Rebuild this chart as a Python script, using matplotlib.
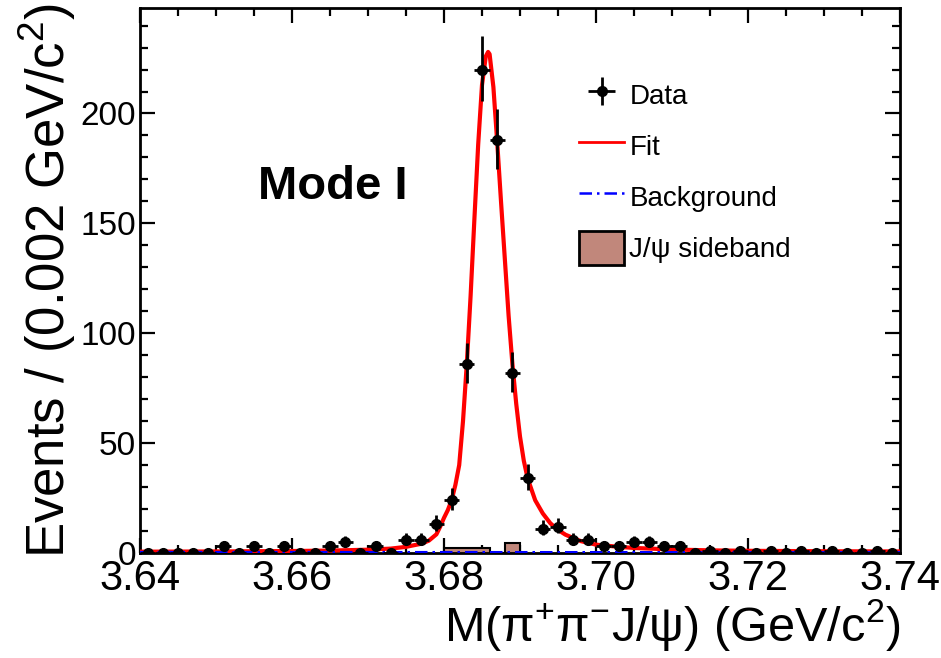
import numpy as np
import matplotlib
matplotlib.use("Agg")
import matplotlib.pyplot as plt
import matplotlib.patches as mpatches
from matplotlib.lines import Line2D
from matplotlib.ticker import MultipleLocator

plt.rcParams['font.family'] = ['Liberation Sans', 'DejaVu Sans']
plt.rcParams['mathtext.fontset'] = 'custom'
plt.rcParams['mathtext.rm'] = 'Liberation Sans'
plt.rcParams['mathtext.it'] = 'Liberation Sans:italic'
plt.rcParams['mathtext.bf'] = 'Liberation Sans:bold'
plt.rcParams['mathtext.default'] = 'rm'

# binning: 50 bins of 0.002 GeV/c^2 between 3.64 and 3.74
mass_lo, mass_hi, bin_width = 3.64, 3.74, 0.002

# data counts per bin
counts = np.array([0, 0, 0, 0, 0, 3, 0, 3, 0, 3,
                   0, 0, 3, 5, 0, 3, 0, 6, 6, 13,
                   24, 86, 220, 188, 82, 34, 11, 12, 6, 6,
                   3, 3, 5, 5, 3, 3, 0, 1, 0, 1,
                   0, 1, 0, 1, 0, 1, 0, 0, 1, 0])

# fit curve
fit_x = [3.640, 3.650, 3.655, 3.660, 3.665, 3.670, 3.673, 3.675, 3.677, 3.678,
         3.679, 3.6795, 3.680, 3.6805, 3.681, 3.6815, 3.682, 3.6825, 3.683, 3.6835,
         3.684, 3.6845, 3.685, 3.6855, 3.6858, 3.686, 3.6865, 3.687, 3.6875, 3.688,
         3.6885, 3.689, 3.6895, 3.690, 3.6905, 3.691, 3.692, 3.693, 3.694, 3.695,
         3.696, 3.698, 3.700, 3.703, 3.705, 3.710, 3.715, 3.720, 3.730, 3.740]
fit_y = [0.6, 0.7, 0.8, 0.9, 1.1, 1.5, 2.0, 2.8, 4.2, 5.6,
         8.5, 12, 16, 19.5, 24, 31, 40, 60, 86, 117,
         152, 186, 213, 226, 228, 227, 212, 187, 160, 134,
         108, 86, 68, 53, 42, 34, 24, 18, 13.5, 10.5,
         8.3, 5.4, 3.8, 2.8, 2.3, 1.6, 1.2, 1.0, 0.8, 0.7]

# background (flat, near zero)
bkg_x = [3.64, 3.74]
bkg_y = [0.4, 0.3]

# J/psi sideband histogram
sb_edges = [3.680, 3.682, 3.684, 3.686, 3.688, 3.690]
sb_counts = [2.2, 2.2, 2.2, 0, 4.6]

centers = mass_lo + bin_width * (np.arange(len(counts)) + 0.5)
err_up = np.sqrt(counts + 0.25) + 0.5
err_dn = np.sqrt(counts + 0.25) - 0.5

fig = plt.figure(figsize=(9.41, 6.58), dpi=100)
ax = fig.add_axes([140/941, 1 - 553/658, 760/941, 545/658])

sb_color = '#c1877b'
ax.stairs(sb_counts, sb_edges, fill=True, color=sb_color, zorder=2)
ax.stairs(sb_counts, sb_edges, color='black', lw=1.5, zorder=2)

ax.plot(fit_x, fit_y, color='#ff0000', lw=3, zorder=3)
ax.plot(bkg_x, bkg_y, color='#0000ff', lw=1.8, ls=(0, (5, 2, 1, 2)), zorder=4)

data = ax.errorbar(centers, counts, xerr=bin_width/2, yerr=[err_dn, err_up],
                   fmt='o', color='black', ms=7, elinewidth=2, capsize=0,
                   zorder=5, clip_on=True)

ax.set_xlim(mass_lo, mass_hi)
ax.set_ylim(0, 248)

ax.xaxis.set_major_locator(MultipleLocator(0.02))
ax.xaxis.set_minor_locator(MultipleLocator(0.005))
ax.yaxis.set_major_locator(MultipleLocator(50))
ax.yaxis.set_minor_locator(MultipleLocator(10))
ax.xaxis.set_major_formatter(matplotlib.ticker.FormatStrFormatter('%.2f'))

ax.tick_params(which='both', direction='in', top=True, right=True, width=1.6)
ax.tick_params(which='major', length=11)
ax.tick_params(which='minor', length=5.5)
ax.tick_params(axis='x', labelsize=30, pad=4)
ax.tick_params(axis='y', labelsize=24, pad=3)
for s in ax.spines.values():
    s.set_linewidth(2)

ax.set_ylabel('Events / (0.002 GeV/c$^{2}$)', fontsize=38)
ax.yaxis.set_label_coords(-0.082, 0.5)
ax.set_xlabel('M(π$^{+}$π$^{-}$J/ψ) (GeV/c$^{2}$)', fontsize=35, ha='right')
ax.xaxis.set_label_coords(1.0, -0.08)

ax.text(0.254, 0.672, 'Mode I', transform=ax.transAxes, fontsize=34,
        fontweight='bold', ha='center', va='center')

handles = [data,
           Line2D([], [], color='#ff0000', lw=2),
           Line2D([], [], color='#0000ff', lw=1.8, ls=(0, (5, 2, 1, 2))),
           mpatches.Patch(facecolor=sb_color, edgecolor='black', lw=2)]
labels = ['Data', 'Fit', 'Background', 'J/ψ sideband']
ax.legend(handles, labels, loc='upper left', bbox_to_anchor=(0.578, 0.872),
          frameon=False, fontsize=20, handlelength=1.6, handleheight=1.5,
          handletextpad=0.2, labelspacing=0.62, borderpad=0, borderaxespad=0)

fig.savefig('out.png', dpi=100)
